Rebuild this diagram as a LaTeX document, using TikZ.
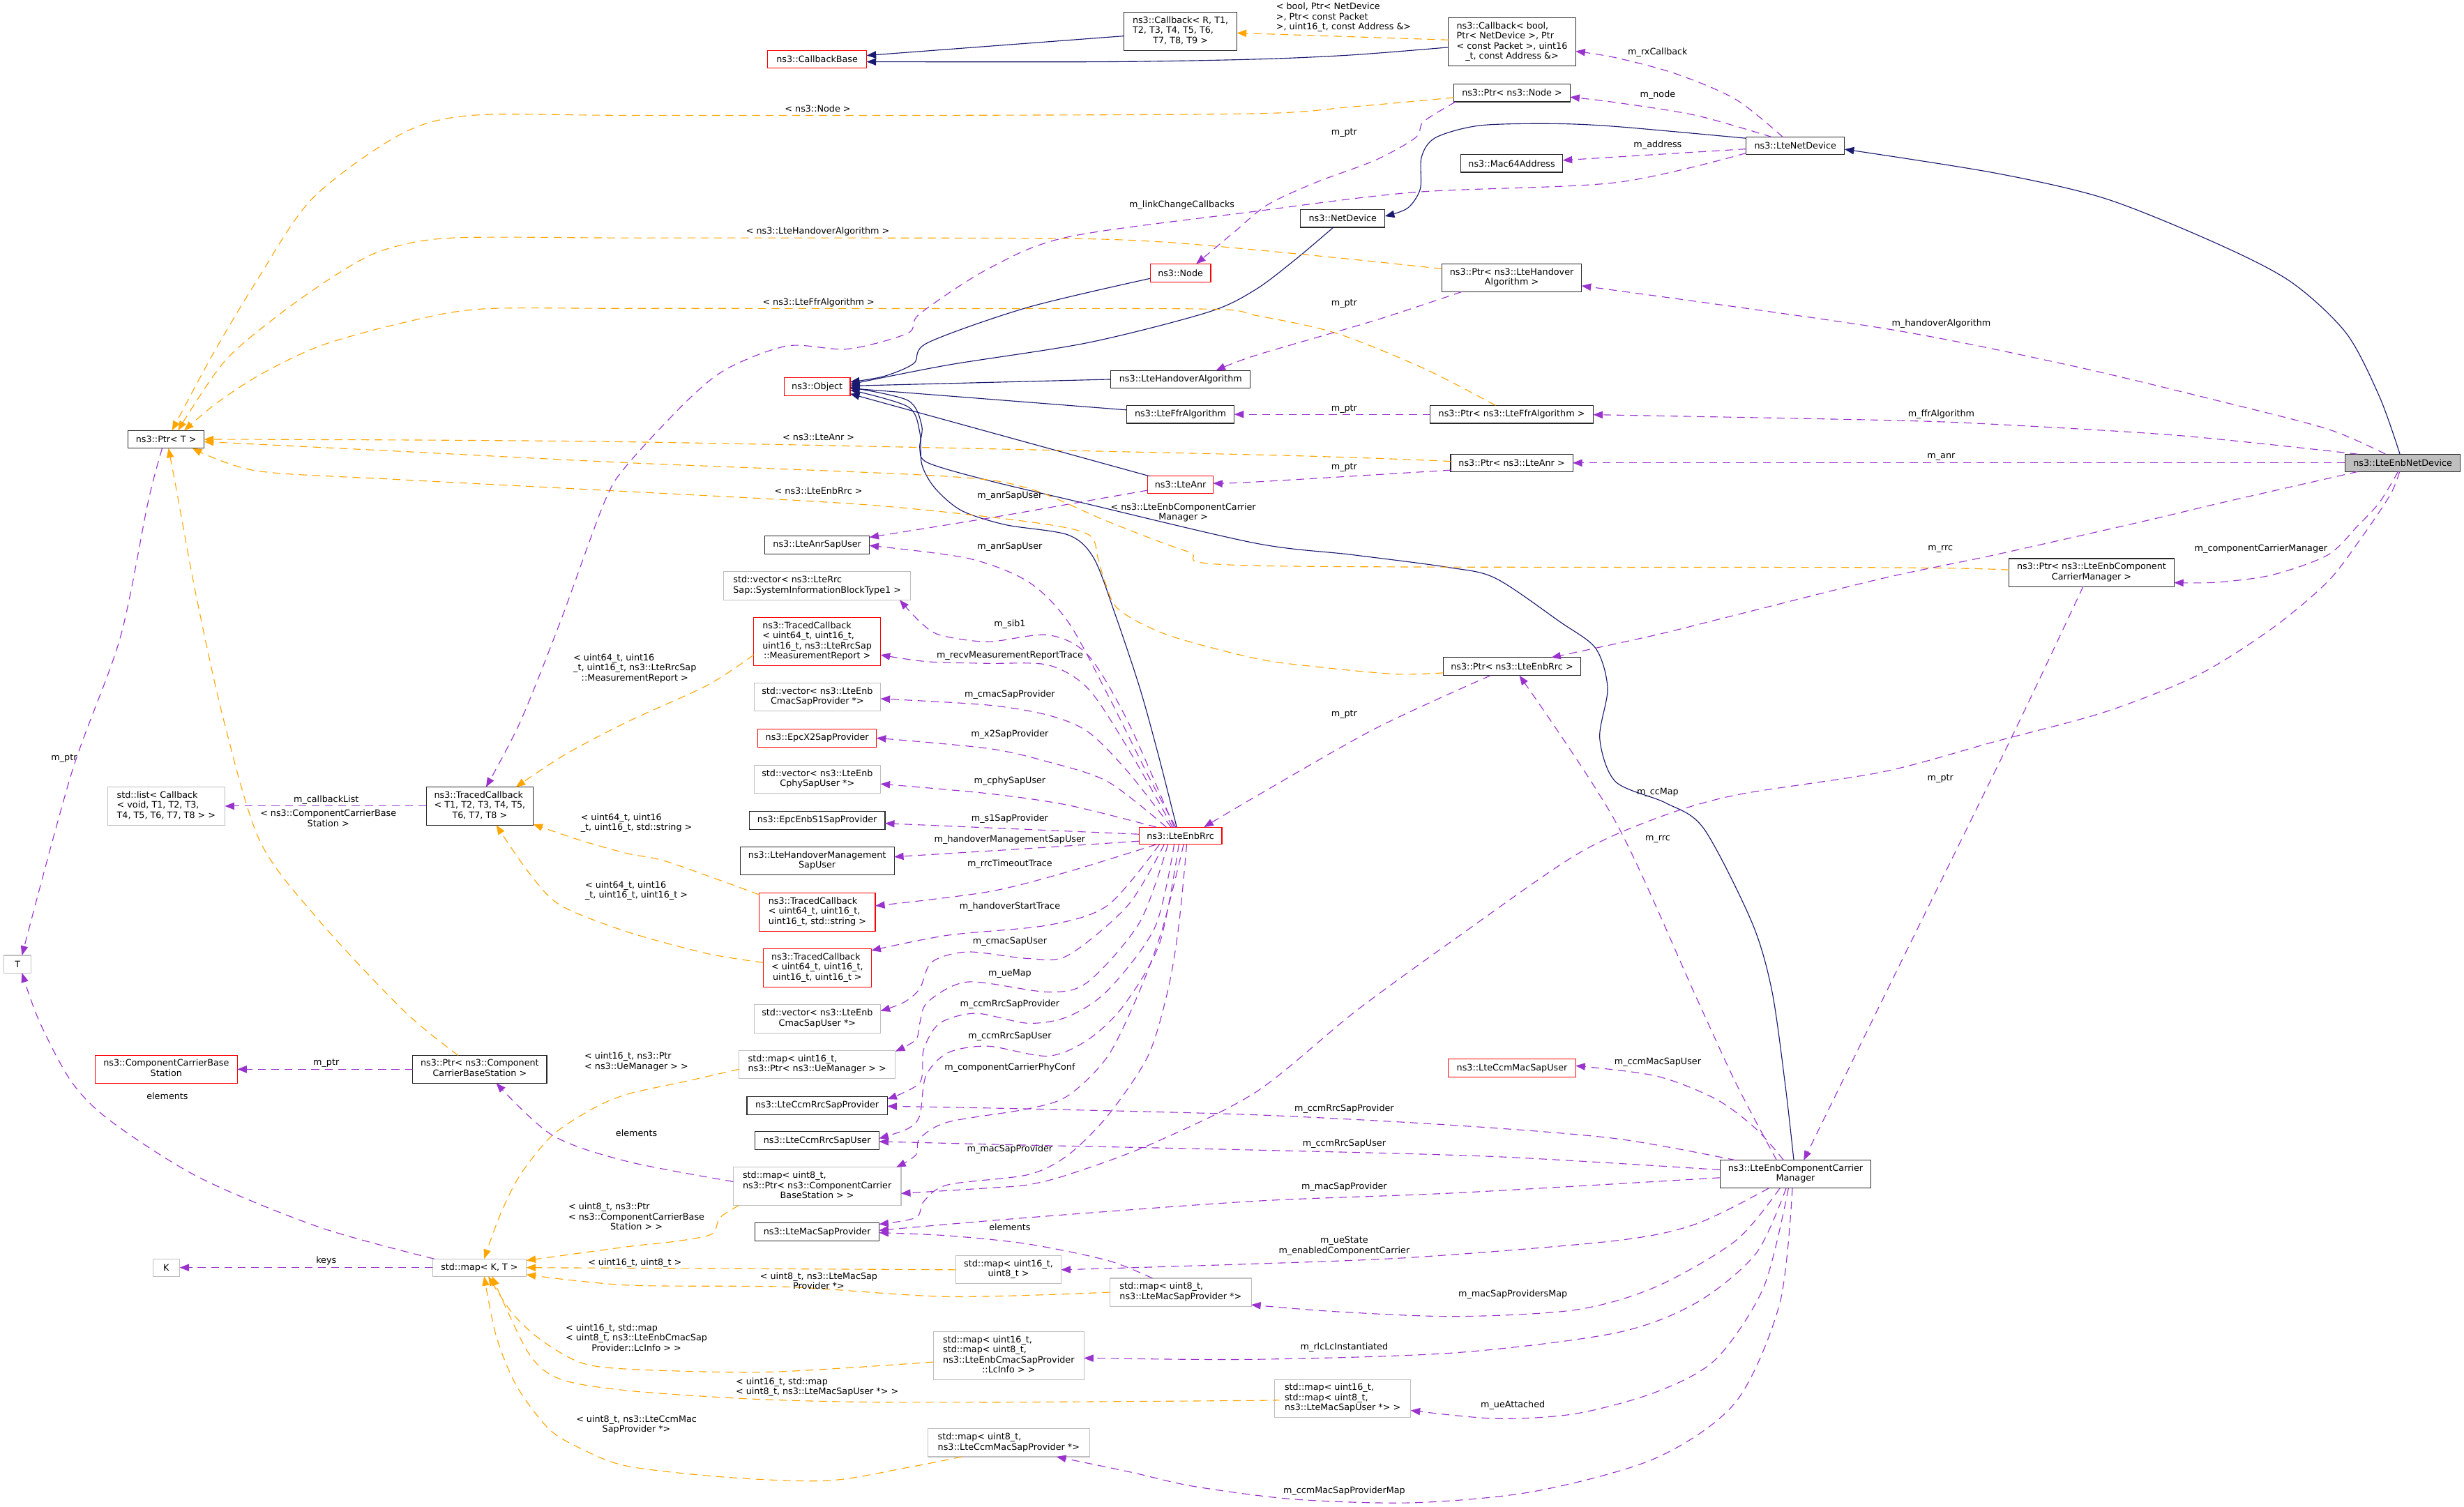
\documentclass[tikz,border=0pt]{standalone}
\usepackage{fontspec}
\setmainfont{DejaVu Sans}
\usetikzlibrary{arrows.meta,calc}
\definecolor{navyE}{RGB}{25,25,112}
\definecolor{purpE}{RGB}{154,50,205}
\definecolor{orngE}{RGB}{255,165,0}
\definecolor{grayB}{RGB}{191,191,191}
\definecolor{boxK}{RGB}{40,40,40}
\newcommand{\nf}{\fontsize{5.66}{6.4}\selectfont}
\newcommand{\mlines}[2]{\begin{tabular}{@{}l@{}}#1\\\multicolumn{1}{@{}c@{}}{#2}\end{tabular}}
\newcommand{\bx}[6]{\node[#1, minimum width=#4pt, minimum height=#5pt] (#2) at (#3) {#6};}
\newcommand{\lb}[3]{\node[lbl] (#1) at (#2) {#3};}
\tikzset{
 cbox/.style={draw=boxK, line width=0.5pt, fill=white, inner sep=0pt, outer sep=0pt, font=\nf, text=black},
 rbox/.style={cbox, draw=red},
 gbox/.style={cbox, draw=grayB},
 mbox/.style={cbox, fill=grayB},
 lbl/.style={inner sep=0pt, font=\nf, align=center, text=black},
 tipE/.style={-{Triangle[length=6pt,width=4.6pt]}},
 inhE/.style={draw=navyE, line width=0.5pt, tipE},
 useE/.style={draw=purpE, line width=0.5pt, dash pattern=on 5pt off 3.5pt, tipE},
 tplE/.style={draw=orngE, line width=0.5pt, dash pattern=on 5pt off 3.5pt, tipE},
}
\begin{document}
\begin{tikzpicture}[x=1pt,y=-1pt]
\fill[white] (0,0) rectangle (1568,959);
\useasboundingbox (0,0) rectangle (1568,959);

% ---------------- nodes ----------------
\bx{cbox}{cbR}{751.2,19.9}{71.9}{24.3}{\mlines{ns3::Callback< R, T1,\\T2, T3, T4, T5, T6,}{T7, T8, T9 >}}
\bx{rbox}{cbBase}{520,37.8}{63}{11.2}{ns3::CallbackBase}
\bx{cbox}{cbBool}{962.2,26.6}{81}{30.8}{\mlines{ns3::Callback< bool,\\Ptr< NetDevice >, Ptr\\< const Packet >, uint16}{\_t, const Address \&>}}
\bx{cbox}{ptrNode}{962.2,59.1}{73.9}{11.4}{ns3::Ptr< ns3::Node >}
\bx{cbox}{lteNet}{1142.5,92.8}{62.6}{11.2}{ns3::LteNetDevice}
\bx{cbox}{macAddr}{962,104}{64.9}{11.2}{ns3::Mac64Address}
\bx{cbox}{netDev}{854.5,139}{53.7}{11.4}{ns3::NetDevice}
\bx{cbox}{ptrHO}{962,176.9}{88.9}{17.7}{\mlines{ns3::Ptr< ns3::LteHandover}{Algorithm >}}
\bx{cbox}{ptrFfr}{962,263.7}{103.7}{11.4}{ns3::Ptr< ns3::LteFfrAlgorithm >}
\bx{cbox}{ptrAnr}{962,294.6}{77.7}{11.2}{ns3::Ptr< ns3::LteAnr >}
\bx{mbox}{enbNet}{1529,294.6}{73.4}{11.2}{ns3::LteEnbNetDevice}
\bx{rbox}{nodeN}{751.2,173.7}{38.5}{11.5}{ns3::Node}
\bx{rbox}{object}{520,246.1}{42}{11.2}{ns3::Object}
\bx{cbox}{hoAlg}{751.3,241.4}{88.7}{11.2}{ns3::LteHandoverAlgorithm}
\bx{cbox}{ffrAlg}{751.2,263.7}{68.5}{11.4}{ns3::LteFfrAlgorithm}
\bx{rbox}{lteAnr}{751.2,308.5}{41.5}{11}{ns3::LteAnr}
\bx{cbox}{ptrT}{105.7,279.6}{48.4}{11.3}{ns3::Ptr< T >}
\bx{gbox}{stdList}{105.8,513}{74.6}{24.2}{\mlines{std::list< Callback\\< void, T1, T2, T3,}{T4, T5, T6, T7, T8 > >}}
\bx{cbox}{tcb}{305.3,513}{68}{24.2}{\mlines{ns3::TracedCallback\\< T1, T2, T3, T4, T5,}{T6, T7, T8 >}}
\bx{gbox}{tT}{11.2,613.6}{17.4}{11.2}{T}
\bx{cbox}{anrSapUser}{520,346.7}{66.4}{11.5}{ns3::LteAnrSapUser}
\bx{gbox}{vSib}{520,372.8}{119}{18}{\mlines{std::vector< ns3::LteRrc}{Sap::SystemInformationBlockType1 >}}
\bx{rbox}{tcMR}{520,408.3}{80.8}{30.6}{\mlines{ns3::TracedCallback\\< uint64\_t, uint16\_t,\\uint16\_t, ns3::LteRrcSap}{::MeasurementReport >}}
\bx{gbox}{vCmacP}{520.1,443.7}{80.5}{17.6}{\mlines{std::vector< ns3::LteEnb}{CmacSapProvider *>}}
\bx{rbox}{x2}{520,469.7}{75.6}{11.5}{ns3::EpcX2SapProvider}
\bx{gbox}{vCphy}{520.1,495.9}{80.5}{17.6}{\mlines{std::vector< ns3::LteEnb}{CphySapUser *>}}
\bx{cbox}{s1}{520,522}{86.4}{11.5}{ns3::EpcEnbS1SapProvider}
\bx{cbox}{hoMgmt}{520,548}{98}{17.7}{\mlines{ns3::LteHandoverManagement}{SapUser}}
\bx{rbox}{tcStr}{520.1,580.5}{73.8}{24.2}{\mlines{ns3::TracedCallback\\< uint64\_t, uint16\_t,}{uint16\_t, std::string >}}
\bx{rbox}{tcU16}{520.1,616}{68.8}{24.2}{\mlines{ns3::TracedCallback\\< uint64\_t, uint16\_t,}{uint16\_t, uint16\_t >}}
\bx{rbox}{enbRrc}{751.2,531.9}{52.7}{11}{ns3::LteEnbRrc}
\bx{cbox}{ptrRrc}{962.2,424.2}{87.6}{11.5}{ns3::Ptr< ns3::LteEnbRrc >}
\bx{cbox}{ptrCcm}{1331,364.4}{104.9}{17.8}{\mlines{ns3::Ptr< ns3::LteEnbComponent}{CarrierManager >}}
\bx{rbox}{ccbs}{105.8,680.5}{90.4}{17.6}{\mlines{ns3::ComponentCarrierBase}{Station}}
\bx{cbox}{ptrCcbs}{305.3,680.5}{85.3}{17.6}{\mlines{ns3::Ptr< ns3::Component}{CarrierBaseStation >}}
\bx{gbox}{kK}{105.8,806.7}{17.1}{11.1}{K}
\bx{gbox}{mapKT}{305.1,806.7}{59.6}{11.1}{std::map< K, T >}
\bx{gbox}{vCmacU}{520.1,648.4}{80.5}{17.9}{\mlines{std::vector< ns3::LteEnb}{CmacSapUser *>}}
\bx{gbox}{mapUe}{520,677.5}{99.6}{17.8}{\mlines{std::map< uint16\_t,}{ns3::Ptr< ns3::UeManager > >}}
\bx{cbox}{ccmRrcP}{520,703.5}{89.4}{11.6}{ns3::LteCcmRrcSapProvider}
\bx{cbox}{ccmRrcU}{520,726}{78.8}{11.5}{ns3::LteCcmRrcSapUser}
\bx{gbox}{mapCcbs}{520,755}{106.8}{24.3}{\mlines{std::map< uint8\_t,\\ns3::Ptr< ns3::ComponentCarrier}{BaseStation > >}}
\bx{cbox}{macSapP}{520,784}{78.8}{11.3}{ns3::LteMacSapProvider}
\bx{gbox}{map168}{641.8,808.1}{66.9}{17.8}{\mlines{std::map< uint16\_t,}{uint8\_t >}}
\bx{gbox}{mapMSP}{751.3,822.4}{89.9}{17.8}{\mlines{std::map< uint8\_t,}{ns3::LteMacSapProvider *>}}
\bx{gbox}{mapLc}{641.9,862.8}{95.8}{30.5}{\mlines{std::map< uint16\_t,\\std::map< uint8\_t,\\ns3::LteEnbCmacSapProvider}{::LcInfo > >}}
\bx{gbox}{mapCcmP}{641.9,918.2}{102.9}{17.8}{\mlines{std::map< uint8\_t,}{ns3::LteCcmMacSapProvider *>}}
\bx{rbox}{ccmMacU}{962.2,679.8}{81}{11.6}{ns3::LteCcmMacSapUser}
\bx{cbox}{ccm}{1142.6,747.3}{96}{17.8}{\mlines{ns3::LteEnbComponentCarrier}{Manager}}
\bx{gbox}{mapMSU}{854.4,890}{86.6}{24.1}{\mlines{std::map< uint16\_t,\\std::map< uint8\_t,}{ns3::LteMacSapUser *> >}}

% ---------------- inheritance ----------------
\draw[inhE] ($(cbR.west)+(0,3)$) -- ($(cbBase.east)+(0,-2.5)$);
\draw[inhE] plot[smooth] coordinates {($(cbBool.west)+(0,3.5)$) (860,35) (798.8,37.7) (705,39.3) ($(cbBase.east)+(0,1.5)$)};
\draw[inhE] plot[smooth] coordinates {($(lteNet.west)+(0,-4.8)$) (1028.1,80.5) (987.4,78.7) (941.5,79.9) (913.5,87.6) (904.6,99.9) (903.8,120.2) (895.7,132.5) ($(netDev.east)+(0,-1.4)$)};
\draw[inhE] plot[smooth] coordinates {($(enbNet.north)+(-1.8,0)$) (1514.3,252.7) (1493,212) (1457.7,179.3) (1410.5,154.9) (1339.8,126.4) (1269,110) ($(lteNet.east)+(0,2.2)$)};
\draw[inhE] plot[smooth] coordinates {($(nodeN.west)+(0,3.5)$) (654.1,195.6) (590.4,218.1) (581.5,231.3) (562.4,239.5) ($(object.east)+(0,-3)$)};
\draw[inhE] plot[smooth] coordinates {($(netDev.south)+(-6,0)$) (824.4,165.1) (798.8,184.4) (768.7,198.7) (692.3,218.1) (603.2,232.3) ($(object.east)+(0,-1.5)$)};
\draw[inhE] (hoAlg.west) -- ($(object.east)+(0,-0.5)$);
\draw[inhE] ($(ffrAlg.west)+(0,-2.8)$) -- ($(object.east)+(0,1)$);
\draw[inhE] ($(lteAnr.north west)+(1,0)$) -- ($(object.east)+(0,4.5)$);
\draw[inhE] plot[smooth] coordinates {($(enbRrc.north)+(-2.4,0)$) (737,480) (725.4,438.1) (710,392) (696.1,355.3) (679.6,340.4) (640,334) (612,325) (595,310.7) (586.6,295.5) (585.3,275.1) (577.7,258.8) ($(object.east)+(0,2)$)};
\draw[inhE] plot[smooth] coordinates {($(ccm.north)+(-1.1,0)$) (1136,690) (1127.5,630.2) (1114.7,586.7) (1084.2,527.3) (1060,511) (1028.1,497.5) (1018,469.9) (1023,438.1) (1015.4,412.6) (992.5,395.6) (951.7,368) (921.2,361) (860,353) (798.9,345.7) (687.2,319.6) (628.6,305.7) (590.4,294.5) (585.3,285.3) (586.6,271.1) (577.7,254.8) ($(object.east)+(0,0.5)$)};

% ---------------- template instances ----------------
\draw[tplE] ($(cbBool.west)+(0,-1.2)$) -- ($(cbR.east)+(0,1.1)$);
\draw[tplE] plot[smooth] coordinates {($(ptrNode.west)+(0,3)$) (860,68) (798.9,72.3) (600,73.4) (399.4,73.4) (300.5,73.4) (254.7,85.6) (198.7,126.4) (163,179.3) (135,226.2) ($(ptrT.north)+(3.8,0)$)};
\draw[tplE] plot[smooth] coordinates {($(ptrHO.north west)+(0,3)$) (860,165) (798.9,159) (740,154) (679.6,151.8) (540,151.4) (399.4,151.4) (287.8,151.4) (244.5,159) (216.5,173.2) (178.3,199.7) (142.6,230.3) ($(ptrT.north)+(7.6,0)$)};
\draw[tplE] plot[smooth] coordinates {($(ptrFfr.north)+(-10.3,0)$) (905.9,234.4) (849.8,211.9) (798.9,200.7) (768.7,196.7) (600,196.4) (399.4,196.3) (305.6,196.7) (254.7,205.8) (203.8,220.1) (165.6,238.4) (137.5,256.8) ($(ptrT.north)+(11.5,0)$)};
\draw[tplE] plot[smooth] coordinates {($(ptrAnr.west)+(0,-1)$) (798.9,289.4) (399.4,281.2) (ptrT.east)};
\draw[tplE] plot[smooth] coordinates {($(ptrRrc.west)+(0,4)$) (888,429) (837.1,424.3) (798.8,419) (743,404.1) (712,388) (703,370) (698.7,355.3) (692.3,340) (654.1,332) (552.2,321.3) (399.4,312.8) (250,305) (163,299.6) ($(ptrT.south east)+(-7.5,0)$)};
\draw[tplE] plot[smooth] coordinates {($(ptrCcm.west)+(0,-1.7)$) (1198.3,361.2) (798.9,360) (756,351) (705,331.9) (654.1,310.7) (600,303) (399.4,294.5) (250,287) ($(ptrT.east)+(0,1.5)$)};
\draw[tplE] plot[smooth] coordinates {($(tcMR.west)+(0,8.5)$) (450.3,436) (399.4,459.3) (360,480) ($(tcb.north east)+(-11,0)$)};
\draw[tplE] plot[smooth] coordinates {($(tcStr.north west)+(0,1)$) (424.9,548.5) (399.4,543.2) (370,535) ($(tcb.south east)+(0,-0.5)$)};
\draw[tplE] plot[smooth] coordinates {($(tcU16.west)+(0,-3.4)$) (450.3,606.9) (399.4,593.1) (356.6,576.1) (336.2,554.9) ($(tcb.south)+(10.5,0)$)};
\draw[tplE] plot[smooth] coordinates {($(ptrCcbs.north)+(-13.7,0)$) (257.3,643.6) (203.8,586.7) (165.6,535.7) (142.6,459.3) (125,380) (112.1,310.7) ($(ptrT.south)+(1.5,0)$)};
\draw[tplE] plot[smooth] coordinates {($(mapUe.west)+(0,3)$) (437.6,687.9) (399.4,696.3) (377,705.7) (351.5,722.5) (331.1,747.6) (318.4,772.8) ($(mapKT.north)+(3,0)$)};
\draw[tplE] plot[smooth] coordinates {($(mapCcbs.south west)+(3.6,0)$) (458,775) (452.9,785.4) (430,790) (399.4,793.4) ($(mapKT.east)+(0,-4.5)$)};
\draw[tplE] (map168.west) -- (mapKT.east);
\draw[tplE] plot[smooth] coordinates {(mapMSP.west) (603.2,825.2) (501.3,819) (399.4,817.9) ($(mapKT.east)+(0,4.5)$)};
\draw[tplE] plot[smooth] coordinates {($(mapLc.west)+(0,4)$) (526.8,871.3) (475.8,873.4) (399.4,871.3) (369.3,867.1) (343.9,852.5) (326,835.7) ($(mapKT.south)+(5.6,0)$)};
\draw[tplE] plot[smooth] coordinates {($(mapMSU.west)+(0,1)$) (798.8,891.3) (654.1,892.3) (552.2,892.3) (475.8,890.2) (399.4,885) (356.6,877.7) (336.2,860.9) ($(mapKT.south)+(8,0)$)};
\draw[tplE] plot[smooth] coordinates {($(mapCcmP.south west)+(21.7,0)$) (577.7,933.9) (526.8,942.3) (463.1,940.2) (399.4,933.1) (369.3,921.7) (349,909.1) (328.6,881.8) (315.8,850.4) ($(mapKT.south)+(3,0)$)};

% ---------------- usage ----------------
\draw[useE] plot[smooth] coordinates {($(lteNet.north)+(-8,0)$) (1104.5,63.2) (1066.3,46.9) (1028.1,36.7) ($(cbBool.east)+(0,6)$)};
\draw[useE] plot[smooth] coordinates {($(lteNet.north)+(-15,0)$) (1079.1,73.4) (1028.1,65.2) ($(ptrNode.east)+(0,2.7)$)};
\draw[useE] ($(lteNet.west)+(0,2)$) -- ($(macAddr.east)+(0,-2)$);
\draw[useE] plot[smooth] coordinates {($(lteNet.south west)+(0,-1)$) (1028.1,116.2) (900.8,122.3) (798.9,134.5) (679.6,150.8) (628.6,171.2) (585.3,199.7) (577.7,212) (539.5,222.1) (501.3,220.1) (463.1,234.4) (437.6,254.7) (399.4,295.5) (384.6,319.6) (356.6,395.6) (331.1,459.3) ($(tcb.north)+(4,0)$)};
\draw[useE] plot[smooth] coordinates {($(ptrNode.south west)+(1,0)$) (905.9,77.4) (900.8,87.6) (875.3,101.9) (837.1,116.2) (806.5,130.4) (785,148) ($(nodeN.north)+(10,0)$)};
\draw[useE] plot[smooth] coordinates {($(ptrHO.south west)+(12.5,0)$) (875.3,203.8) (798.9,226.2) ($(hoAlg.north)+(22.5,0)$)};
\draw[useE] (ptrFfr.west) -- (ffrAlg.east);
\draw[useE] plot[smooth] coordinates {($(ptrAnr.south west)+(0,-1)$) (798.9,306.7) ($(lteAnr.east)+(0,-1)$)};
\draw[useE] plot[smooth] coordinates {($(lteAnr.south west)+(0,-2)$) (687.2,319.6) (628.6,329.8) ($(anrSapUser.north east)+(0,1)$)};
\draw[useE] plot[smooth] coordinates {($(enbRrc.north)+(-3,0)$) (730.5,493.3) (705,442.3) (679.6,395.6) (654.1,370.1) (615.9,355.3) ($(anrSapUser.east)+(0,0.5)$)};
\draw[useE] plot[smooth] coordinates {($(enbRrc.north)+(-4,0)$) (717.8,459.3) (692.3,416.9) (666.8,404.1) (628.6,408.4) (598,404.1) (585.3,395.6) ($(vSib.south east)+(-7,0)$)};
\draw[useE] plot[smooth] coordinates {($(enbRrc.north)+(-5,0)$) (717.8,476.3) (692.3,438.1) (666.8,423.2) (628.6,422.2) (590.4,421.1) ($(tcMR.east)+(0,8.5)$)};
\draw[useE] plot[smooth] coordinates {($(enbRrc.north)+(-6,0)$) (717.8,491.2) (692.3,465.7) (666.8,455.1) (628.6,448.7) ($(vCmacP.east)+(0,1)$)};
\draw[useE] plot[smooth] coordinates {($(enbRrc.north)+(-9,0)$) (705,497.5) (666.8,484.8) (628.6,476.3) (x2.east)};
\draw[useE] plot[smooth] coordinates {($(enbRrc.north west)+(11,0)$) (679.6,512.4) (628.6,505) ($(vCphy.east)+(0,3)$)};
\draw[useE] ($(enbRrc.west)+(0,-1)$) -- ($(s1.east)+(0,2)$);
\draw[useE] plot[smooth] coordinates {($(enbRrc.west)+(0,3.4)$) (654.1,540) ($(hoMgmt.east)+(0,-2.7)$)};
\draw[useE] plot[smooth] coordinates {($(enbRrc.south west)+(11,0)$) (679.6,554.8) (628.6,567.6) ($(tcStr.east)+(0,-4)$)};
\draw[useE] plot[smooth] coordinates {($(enbRrc.south west)+(13,0)$) (705,576.1) (666.8,588.8) (603.2,595.2) ($(tcU16.north east)+(0,1)$)};
\draw[useE] plot[smooth] coordinates {($(enbRrc.south west)+(16,0)$) (717.8,576.1) (679.6,608) (654.1,610) (615.9,605.8) (593,612.2) (585.3,629.2) (575,638) ($(vCmacU.east)+(0,-5)$)};
\draw[useE] plot[smooth] coordinates {($(enbRrc.south)+(-8,0)$) (725.4,586.7) (692.3,624.9) (666.8,631.3) (615.9,624.9) (590.4,637.6) (585.3,651.2) (582.8,661.7) ($(mapUe.north east)+(0,0.5)$)};
\draw[useE] plot[smooth] coordinates {($(enbRrc.south)+(-4,0)$) (735,590) (705,630.2) (679.6,647) (654.1,651.2) (621,644.9) (598,651.2) (587.8,667.9) (585.3,689) ($(ccmRrcP.east)+(0,-4)$)};
\draw[useE] plot[smooth] coordinates {($(enbRrc.south)+(-1,0)$) (738,600) (715,640) (692.3,661.7) (666.8,672.1) (628.6,665.8) (603.2,670) (589.2,684.7) (585.3,709.9) (577.7,718.3) ($(ccmRrcU.east)+(0,-1.5)$)};
\draw[useE] plot[smooth] coordinates {($(enbRrc.south)+(2,0)$) (740,590) (725.4,630.2) (705,672.1) (679.6,697.3) (654.1,705.7) (603.2,714.1) (585.3,724.6) (582.8,735.1) ($(mapCcbs.north east)+(-3,0)$)};
\draw[useE] plot[smooth] coordinates {($(enbRrc.south)+(4,0)$) (750,590) (743.2,630.2) (730.5,672.1) (705,709.9) (679.6,735.1) (654.1,747.6) (603.2,754) (588,764.4) (582.8,774.9) ($(macSapP.east)+(0,-4.9)$)};
\draw[useE] plot[smooth] coordinates {($(ccm.north west)+(10,0)$) (1028.1,724.6) (926.2,716.2) (798.9,709.5) (654.1,705.7) ($(ccmRrcP.east)+(0,0.5)$)};
\draw[useE] plot[smooth] coordinates {($(ccm.west)+(0,-2.8)$) (951.7,736.1) (798.9,731.9) (654.1,728.8) ($(ccmRrcU.east)+(0,0.5)$)};
\draw[useE] plot[smooth] coordinates {($(ccm.west)+(0,2.2)$) (926.2,759.2) (798.9,764.4) (654.1,774.9) ($(macSapP.east)+(0,-1)$)};
\draw[useE] plot[smooth] coordinates {($(ccm.south)+(-17,0)$) (1079.1,779) (1028.1,789.6) (900.8,800.1) (798.9,804.3) (map168.east)};
\draw[useE] plot[smooth] coordinates {($(ccm.south)+(-10,0)$) (1104.5,789.6) (1053.6,819) (1002.6,833.6) (926.2,837.8) (849.8,834.7) ($(mapMSP.east)+(0,8)$)};
\draw[useE] plot[smooth] coordinates {($(ccm.south)+(-6,0)$) (1117.3,797.9) (1079.1,829.3) (1028.1,848.3) (926.2,860.9) (798.9,865.1) ($(mapLc.east)+(0,1.5)$)};
\draw[useE] plot[smooth] coordinates {($(ccm.south)+(-4.5,0)$) (1122.4,819) (1091.8,865.1) (1053.6,886) (1002.6,899.7) (951.7,902.8) ($(mapMSU.east)+(0,7.6)$)};
\draw[useE] plot[smooth] coordinates {($(ccm.south)+(-2,0)$) (1132.6,829.3) (1104.5,892.3) (1053.6,928) (977.2,949) (900.8,956.3) (824.3,954.2) (760,946) (720,937) ($(mapCcmP.south east)+(-21,0)$)};
\draw[useE] plot[smooth] coordinates {($(ccm.north)+(-7.5,0)$) (1117.3,718.3) (1091.8,699.4) (1053.6,684.7) ($(ccmMacU.east)+(0,-1.5)$)};
\draw[useE] plot[smooth] coordinates {($(ccm.north)+(-12,0)$) (1105,690) (1080,636) (1028.1,523) ($(ptrRrc.south)+(4.7,0)$)};
\draw[useE] plot[smooth] coordinates {($(ptrCcm.south)+(-5.4,0)$) (1280.8,467.8) (1198.3,635.5) ($(ccm.north)+(5.2,0)$)};
\draw[useE] plot[smooth] coordinates {($(enbNet.north)+(-11,0)$) (1481.3,273.1) (1410.5,254.8) (1316.2,232.3) (1198.3,208.9) ($(ptrHO.east)+(0,5)$)};
\draw[useE] plot[smooth] coordinates {($(enbNet.north west)+(8,0)$) (1386.9,277.2) (1269,270) (1198.3,267.4) ($(ptrFfr.east)+(0,0.2)$)};
\draw[useE] (enbNet.west) -- (ptrAnr.east);
\draw[useE] plot[smooth] coordinates {($(enbNet.south west)+(8,0)$) (1415.2,319.6) (1363.4,331.9) (1269,353.2) (1198.3,368) (1104.5,391.4) (1053.6,404.1) ($(ptrRrc.north)+(25,0)$)};
\draw[useE] plot[smooth] coordinates {($(enbNet.south)+(-3,0)$) (1514.3,319.6) (1500,335) (1481.3,353.2) (1445.9,365.9) (1410.5,370.6) ($(ptrCcm.east)+(0,6.4)$)};
\draw[useE] plot[smooth] coordinates {($(enbNet.south)+(-2,0)$) (1521,315) (1502.5,342.5) (1481.3,370.1) (1445.9,399.9) (1398.7,429.6) (1339.8,453) (1269,472.1) (1198.3,491.2) (1104.5,506) (1053.6,520.9) (1002.6,544.2) (926.2,597.3) (862.6,643.6) (798.9,695.2) (730.5,729) (679.6,747.6) (654.1,754) (628.6,756.1) ($(mapCcbs.east)+(0,4.5)$)};
\draw[useE] plot[smooth] coordinates {($(ptrRrc.south west)+(30,0)$) (875.3,463.6) (798.9,507) ($(enbRrc.north east)+(-11.4,0)$)};
\draw[useE] (tcb.west) -- (stdList.east);
\draw[useE] plot[smooth] coordinates {($(ptrT.south)+(-2.5,0)$) (94.2,319.6) (76.4,406.2) (45.8,491.2) ($(tT.north)+(2.8,0)$)};
\draw[useE] plot[smooth] coordinates {($(mapKT.north west)+(1,0)$) (203.8,781.2) (127.4,749.7) (71.3,714.1) (45.8,688.9) (25,650) ($(tT.south)+(2.8,0)$)};
\draw[useE] (mapKT.west) -- (kK.east);
\draw[useE] (ptrCcbs.west) -- (ccbs.east);
\draw[useE] plot[smooth] coordinates {($(mapCcbs.west)+(0,-3)$) (399.4,739.2) (351.5,722.5) ($(ptrCcbs.south)+(10.5,0)$)};
\draw[useE] plot[smooth] coordinates {($(mapMSP.north west)+(27,0)$) (705,802.2) (654.1,791.7) (603.2,786.4) ($(macSapP.east)+(0,0.5)$)};

% ---------------- labels ----------------
\lb{lRx}{1054.9,33.2}{m\_rxCallback}
\lb{lNode}{1054.9,60.5}{m\_node}
\lb{lAddr}{1054.9,92.5}{m\_address}
\lb{lLink}{752.1,130.4}{m\_linkChangeCallbacks}
\lb{lPtrA}{855.4,84.6}{m\_ptr}
\lb{lPtrB}{855.4,193.4}{m\_ptr}
\lb{lPtrC}{855.4,260.5}{m\_ptr}
\lb{lPtrD}{855.4,297.5}{m\_ptr}
\lb{lPtrE}{855.4,454.6}{m\_ptr}
\lb{lPtrF}{1234.8,495.4}{m\_ptr}
\lb{lPtrG}{40.8,482.7}{m\_ptr}
\lb{lPtrH}{207.6,676.8}{m\_ptr}
\lb{lHO}{1235.3,205.8}{m\_handoverAlgorithm}
\lb{lFfr}{1235.3,263.9}{m\_ffrAlgorithm}
\lb{lAnr}{1235.3,291}{m\_anr}
\lb{lRrcA}{1234.8,349.5}{m\_rrc}
\lb{lCcmgr}{1438.8,349.5}{m\_componentCarrierManager}
\lb{lRrcB}{1054.9,534.2}{m\_rrc}
\lb{lCcMap}{1054.9,504.5}{m\_ccMap}
\lb{lAnrSUa}{642.6,315.5}{m\_anrSapUser}
\lb{lAnrSUb}{642.6,347.9}{m\_anrSapUser}
\lb{lSib}{642.6,397.3}{m\_sib1}
\lb{lRecv}{642.6,417.5}{m\_recvMeasurementReportTrace}
\lb{lCmacP}{642.6,441.9}{m\_cmacSapProvider}
\lb{lX2}{642.6,467.2}{m\_x2SapProvider}
\lb{lCphy}{642.6,497.3}{m\_cphySapUser}
\lb{lS1}{642.6,521.3}{m\_s1SapProvider}
\lb{lHOM}{642.6,534.3}{m\_handoverManagementSapUser}
\lb{lRrcT}{642.6,549.8}{m\_rrcTimeoutTrace}
\lb{lHOS}{642.6,577.1}{m\_handoverStartTrace}
\lb{lCmacU}{642.6,599.4}{m\_cmacSapUser}
\lb{lUeMap}{642.6,619.6}{m\_ueMap}
\lb{lCcmRPa}{642.6,639.2}{m\_ccmRrcSapProvider}
\lb{lCcmRUa}{642.6,659.6}{m\_ccmRrcSapUser}
\lb{lCCPC}{642.6,679.5}{m\_componentCarrierPhyConf}
\lb{lMacSPa}{642.6,731.5}{m\_macSapProvider}
\lb{lCcmRPb}{855.4,705.7}{m\_ccmRrcSapProvider}
\lb{lCcmRUb}{855.4,727.9}{m\_ccmRrcSapUser}
\lb{lMacSPb}{855.4,755.4}{m\_macSapProvider}
\lb{lUeState}{855.4,793}{m\_ueState\\m\_enabledComponentCarrier}
\lb{lMSPMap}{962.7,823.6}{m\_macSapProvidersMap}
\lb{lRlc}{855.4,857.5}{m\_rlcLcInstantiated}
\lb{lUeAtt}{962.7,894.4}{m\_ueAttached}
\lb{lCcmMSPM}{855.4,949}{m\_ccmMacSapProviderMap}
\lb{lCcmMSU}{1054.9,676.1}{m\_ccmMacSapUser}
\lb{lCbList}{207.6,509.2}{m\_callbackList}
\lb{lElemA}{106.5,697.7}{elements}
\lb{lKeys}{207.6,802.6}{keys}
\lb{lElemB}{405,721}{elements}
\lb{lElemC}{642.6,780.8}{elements}
\lb{tBool}{855,11.2}{\mlines{< bool, Ptr< NetDevice\\>, Ptr< const Packet}{>, uint16\_t, const Address \&>}}
\lb{tNode}{520.4,69.3}{< ns3::Node >}
\lb{tHO}{520.4,147.3}{< ns3::LteHandoverAlgorithm >}
\lb{tFfr}{520.9,192.6}{< ns3::LteFfrAlgorithm >}
\lb{tAnr}{520.9,278.4}{< ns3::LteAnr >}
\lb{tRrc}{520.9,312.4}{< ns3::LteEnbRrc >}
\lb{tCcm}{753,326.5}{\mlines{< ns3::LteEnbComponentCarrier}{Manager >}}
\lb{tMR}{404,425.5}{\mlines{< uint64\_t, uint16\\\_t, uint16\_t, ns3::LteRrcSap}{::MeasurementReport >}}
\lb{tStr}{405,524}{\mlines{< uint64\_t, uint16}{\_t, uint16\_t, std::string >}}
\lb{tU16}{405,567}{\mlines{< uint64\_t, uint16}{\_t, uint16\_t, uint16\_t >}}
\lb{tCcbs}{208.9,521.6}{\mlines{< ns3::ComponentCarrierBase}{Station >}}
\lb{tUe}{405,676}{\mlines{< uint16\_t, ns3::Ptr}{< ns3::UeManager > >}}
\lb{tCcbsMap}{405,775}{\mlines{< uint8\_t, ns3::Ptr\\< ns3::ComponentCarrierBase}{Station > >}}
\lb{tMap168}{404,804}{< uint16\_t, uint8\_t >}
\lb{tMSP}{521,816}{\mlines{< uint8\_t, ns3::LteMacSap}{Provider *>}}
\lb{tLc}{405,852}{\mlines{< uint16\_t, std::map\\< uint8\_t, ns3::LteEnbCmacSap}{Provider::LcInfo > >}}
\lb{tMSU}{520,883}{\mlines{< uint16\_t, std::map}{< uint8\_t, ns3::LteMacSapUser *> >}}
\lb{tCcmMSP}{405,907}{\mlines{< uint8\_t, ns3::LteCcmMac}{SapProvider *>}}
\end{tikzpicture}
\end{document}
